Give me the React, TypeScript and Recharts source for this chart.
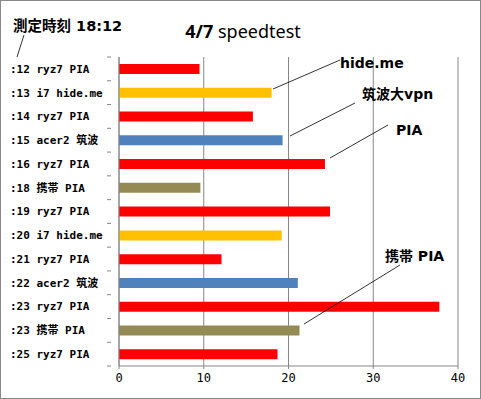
import { BarChart, Bar, XAxis, YAxis, CartesianGrid, Cell } from "recharts";

const labels = [
  ":12 ryz7 PIA",
  ":13 i7 hide.me",
  ":14 ryz7 PIA",
  ":15 acer2 筑波",
  ":16 ryz7 PIA",
  ":18 携帯 PIA",
  ":19 ryz7 PIA",
  ":20 i7 hide.me",
  ":21 ryz7 PIA",
  ":22 acer2 筑波",
  ":23 ryz7 PIA",
  ":23 携帯 PIA",
  ":25 ryz7 PIA",
];
const speeds = [9.5, 18.0, 15.8, 19.3, 24.3, 9.6, 24.9, 19.2, 12.1, 21.1, 37.8, 21.3, 18.7];
const routes = ["pia", "hide", "pia", "tsukuba", "pia", "mobile", "pia", "hide", "pia", "tsukuba", "pia", "mobile", "pia"];
const xTicks = [0, 10, 20, 30, 40];

const routeColors: Record<string, string> = {
  pia: "#FF0000",
  hide: "#FFC000",
  tsukuba: "#4F81BD",
  mobile: "#948A54",
};

const data = labels.map((label, i) => ({ label, speed: speeds[i], route: routes[i] }));

const W = 481;
const H = 399;
const TOP = 57;
const BOTTOM_AXIS = 33;
const band = (H - TOP - BOTTOM_AXIS) / labels.length;

const labelFont = "'DejaVu Sans Mono', 'Noto Sans CJK JP', monospace";
const noteFont = "'DejaVu Sans', 'Noto Sans CJK JP', sans-serif";

function CategoryTick(props: any) {
  const { x, y, payload, index } = props;
  return (
    <g>
      <line x1={x - 4} x2={x} y1={y - band / 2} y2={y - band / 2} stroke="#868686" />
      {index === labels.length - 1 && (
        <line x1={x - 4} x2={x} y1={y + band / 2} y2={y + band / 2} stroke="#868686" />
      )}
      <text x={10} y={y} dy="0.35em" textAnchor="start" fontSize={11} fontWeight="bold" fill="#000" fontFamily={labelFont}>
        {payload.value}
      </text>
    </g>
  );
}

const notes = [
  { text: "hide.me", x: 340, y: 68, from: [273, 89], to: [340, 60] },
  { text: "筑波大vpn", x: 362, y: 99, from: [290, 136], to: [355, 103] },
  { text: "PIA", x: 396, y: 135, from: [330, 158], to: [388, 125] },
  { text: "携帯 PIA", x: 385, y: 261, from: [304, 324], to: [400, 265] },
];

export default function App() {
  return (
    <div
      style={{
        position: "absolute",
        left: 0,
        top: 0,
        width: W,
        height: H,
        background: "#fff",
        border: "1px solid #898989",
        boxSizing: "border-box",
      }}
    >
      <div style={{ position: "absolute", left: -1, top: -1 }}>
        <BarChart
          width={W}
          height={H}
          layout="vertical"
          data={data}
          margin={{ top: TOP, right: 23, bottom: 0, left: 0 }}
        >
          <CartesianGrid horizontal={false} stroke="#868686" strokeDasharray="" />
          <XAxis
            type="number"
            domain={[0, 40]}
            ticks={xTicks}
            height={BOTTOM_AXIS}
            axisLine={{ stroke: "#868686" }}
            tickLine={{ stroke: "#868686" }}
            tickSize={3}
            tickMargin={4}
            tick={{ fontSize: 12, fill: "#000", fontFamily: labelFont }}
          />
          <YAxis
            type="category"
            dataKey="label"
            width={119}
            axisLine={{ stroke: "#868686" }}
            tickLine={false}
            interval={0}
            tick={<CategoryTick />}
          />
          <Bar dataKey="speed" barSize={10} isAnimationActive={false}>
            {data.map((d, i) => (
              <Cell key={i} fill={routeColors[d.route]} />
            ))}
          </Bar>
        </BarChart>
      </div>
      <svg
        width={W}
        height={H}
        style={{ position: "absolute", left: -1, top: -1, pointerEvents: "none" }}
      >
        <text x={243} y={38} textAnchor="middle" fontSize={18} fontFamily="'Noto Sans', sans-serif" fill="#000">
          <tspan fontWeight="bold">4/7</tspan>
          <tspan> speedtest</tspan>
        </text>
        <text x={13} y={31} fontSize={14.5} fontWeight="bold" fontFamily={noteFont} fill="#000">
          測定時刻 18:12
        </text>
        <line x1={24} y1={35} x2={17} y2={57} stroke="#000" strokeWidth={0.8} />
        {notes.map((n) => (
          <g key={n.text}>
            <line x1={n.from[0]} y1={n.from[1]} x2={n.to[0]} y2={n.to[1]} stroke="#000" strokeWidth={0.8} />
            <text x={n.x} y={n.y} fontSize={14} fontWeight="bold" fontFamily={noteFont} fill="#000">
              {n.text}
            </text>
          </g>
        ))}
      </svg>
    </div>
  );
}
